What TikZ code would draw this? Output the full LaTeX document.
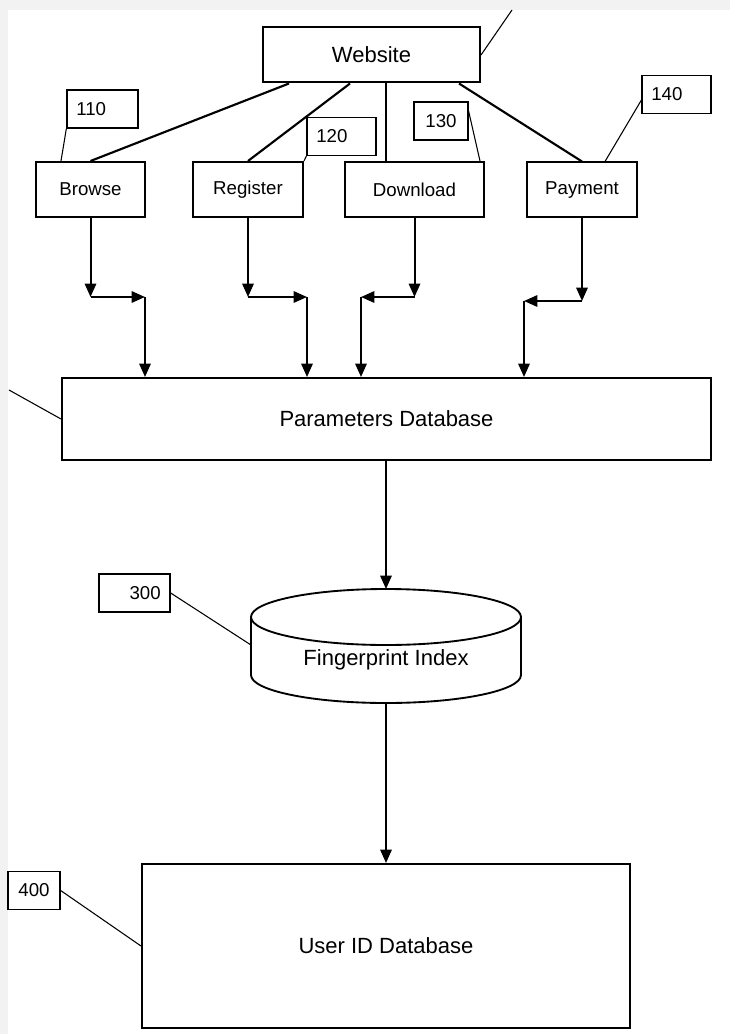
\documentclass[tikz,border=0pt]{standalone}
\usepackage{fontspec}
\setmainfont{Liberation Sans}
\usetikzlibrary{arrows.meta,calc}

\tikzset{every picture/.style={line width=0.75pt}}
\tikzset{
  blk/.style={draw, line width=1.5pt, inner sep=0pt, font=\fontsize{14}{16}\selectfont},
  bigblk/.style={draw, line width=1.5pt, inner sep=0pt, font=\fontsize{16.5}{19}\selectfont},
  tag/.style={draw, line width=1pt, inner xsep=7pt, inner ysep=0pt, minimum height=28.5pt, font=\fontsize{14}{16}\selectfont},
  link/.style={line width=1.6pt},
  flow/.style={line width=1.5pt, -{Triangle[length=10pt,width=8.5pt]}},
  lead/.style={line width=0.8pt},
  cyl/.style={line width=1.4pt},
}

\begin{document}
\begin{tikzpicture}[x=0.75pt,y=0.75pt,yscale=-1,xscale=1]
	\useasboundingbox (0,0) rectangle (730,1034);
	%Shape: page background
	\fill[black!5] (0,0) rectangle (730,1034);
	\fill[white] (8,10) rectangle (730,1034);

	%Shape: Rectangle
	\draw (371.5,55) node [bigblk, minimum width=162.75pt, minimum height=41.25pt] (website) {Website};
	%Shape: Rectangle
	\draw (90.5,189.5) node [blk, minimum width=81.75pt, minimum height=41.25pt] (browse) {Browse};
	%Shape: Rectangle
	\draw (248,189.5) node [blk, minimum width=82.5pt, minimum height=41.25pt] (register) {Register};
	%Shape: Rectangle
	\draw (414.5,189.5) node [blk, minimum width=104.25pt, minimum height=41.25pt] (download) {Download};
	%Shape: Rectangle
	\draw (582,190) node [blk, minimum width=82.5pt, minimum height=41.25pt] (payment) {Payment};
	%Shape: Rectangle
	\draw (386.5,419) node [bigblk, minimum width=486.75pt, minimum height=61.5pt] (params) {Parameters Database};
	%Shape: Rectangle
	\draw (386,946) node [bigblk, minimum width=366pt, minimum height=123pt] (userdb) {User ID Database};

	%Shape: Can
	\draw [cyl] (251,617) -- (251,675) arc [start angle=180, end angle=0, x radius=135, y radius=28] -- (521,617) ;
	\draw [cyl] (386,617) ellipse [x radius=135, y radius=28] ;
	\coordinate (fptop) at (386,589);
	\coordinate (fpbot) at (386,703);
	\coordinate (fpleft) at (251,645);
	% Text Node
	\draw (386,660) node [font=\fontsize{16.5}{19}\selectfont] (fptext) {Fingerprint Index};

	% Text Node
	\draw (102.5,109) node [tag, text width=39.25pt, align=left] (l110) {110};
	% Text Node
	\draw (341.5,136.5) node [tag, text width=37.75pt, align=left] (l120) {120};
	% Text Node
	\draw (441,121) node [tag, text width=26.5pt, align=center] (l130) {130};
	% Text Node
	\draw (676.5,94.5) node [tag, text width=37.75pt, align=left] (l140) {140};
	% Text Node
	\draw (134.5,593) node [tag, text width=39.25pt, align=right] (l300) {300};
	% Text Node
	\draw (34,890.5) node [tag, text width=25pt, align=center] (l400) {400};

	%Straight Lines
	\draw [link] ($(website.south)+(-82.5,0)$) -- (browse.north) ;
	\draw [link] ($(website.south)+(-21.5,0)$) -- (register.north) ;
	\coordinate (w3) at ($(website.south)+(14.5,0)$);
	\draw [link] (w3) -- (w3 |- download.north) ;
	\draw [link] ($(website.south)+(87.5,0)$) -- (payment.north) ;

	%Straight Lines
	\coordinate (b1) at (90.5,297);
	\coordinate (b2) at (145,297);
	\draw [flow] (browse.south) -- (b1) ;
	\draw [flow] (b1) -- (b2) ;
	\draw [flow] (b2) -- (b2 |- params.north) ;
	%Straight Lines
	\coordinate (r1) at (248,297);
	\coordinate (r2) at (307,297);
	\draw [flow] (register.south) -- (r1) ;
	\draw [flow] (r1) -- (r2) ;
	\draw [flow] (r2) -- (r2 |- params.north) ;
	%Straight Lines
	\coordinate (d1) at (414.5,297);
	\coordinate (d2) at (361,297);
	\draw [flow] (download.south) -- (d1) ;
	\draw [flow] (d1) -- (d2) ;
	\draw [flow] (d2) -- (d2 |- params.north) ;
	%Straight Lines
	\coordinate (p1) at (582,301);
	\coordinate (p2) at (524,301);
	\draw [flow] (payment.south) -- (p1) ;
	\draw [flow] (p1) -- (p2) ;
	\draw [flow] (p2) -- (p2 |- params.north) ;

	%Straight Lines
	\draw [flow] (params.south -| fptop) -- (fptop) ;
	\draw [flow] (fpbot) -- (fpbot |- userdb.north) ;

	%Straight Lines
	\coordinate (wtop) at (512,10);
	\coordinate (pleft) at (9,390);
	\draw [lead] (website.east) -- (wtop) ;
	\draw [lead] (pleft) -- (params.west) ;
	\draw [lead] (l110.south west) -- ($(browse.north west)+(26,0)$) ;
	\draw [lead] (l120.south west) -- (register.north east) ;
	\draw [lead] ($(l130.north east)+(0,10)$) -- ($(download.north east)+(-5,0)$) ;
	\draw [lead] ($(l140.south west)+(0,-14)$) -- ($(payment.north)+(23,0)$) ;
	\draw [lead] (l300.east) -- (fpleft) ;
	\draw [lead] (l400.east) -- (userdb.west) ;

\end{tikzpicture}
\end{document}
